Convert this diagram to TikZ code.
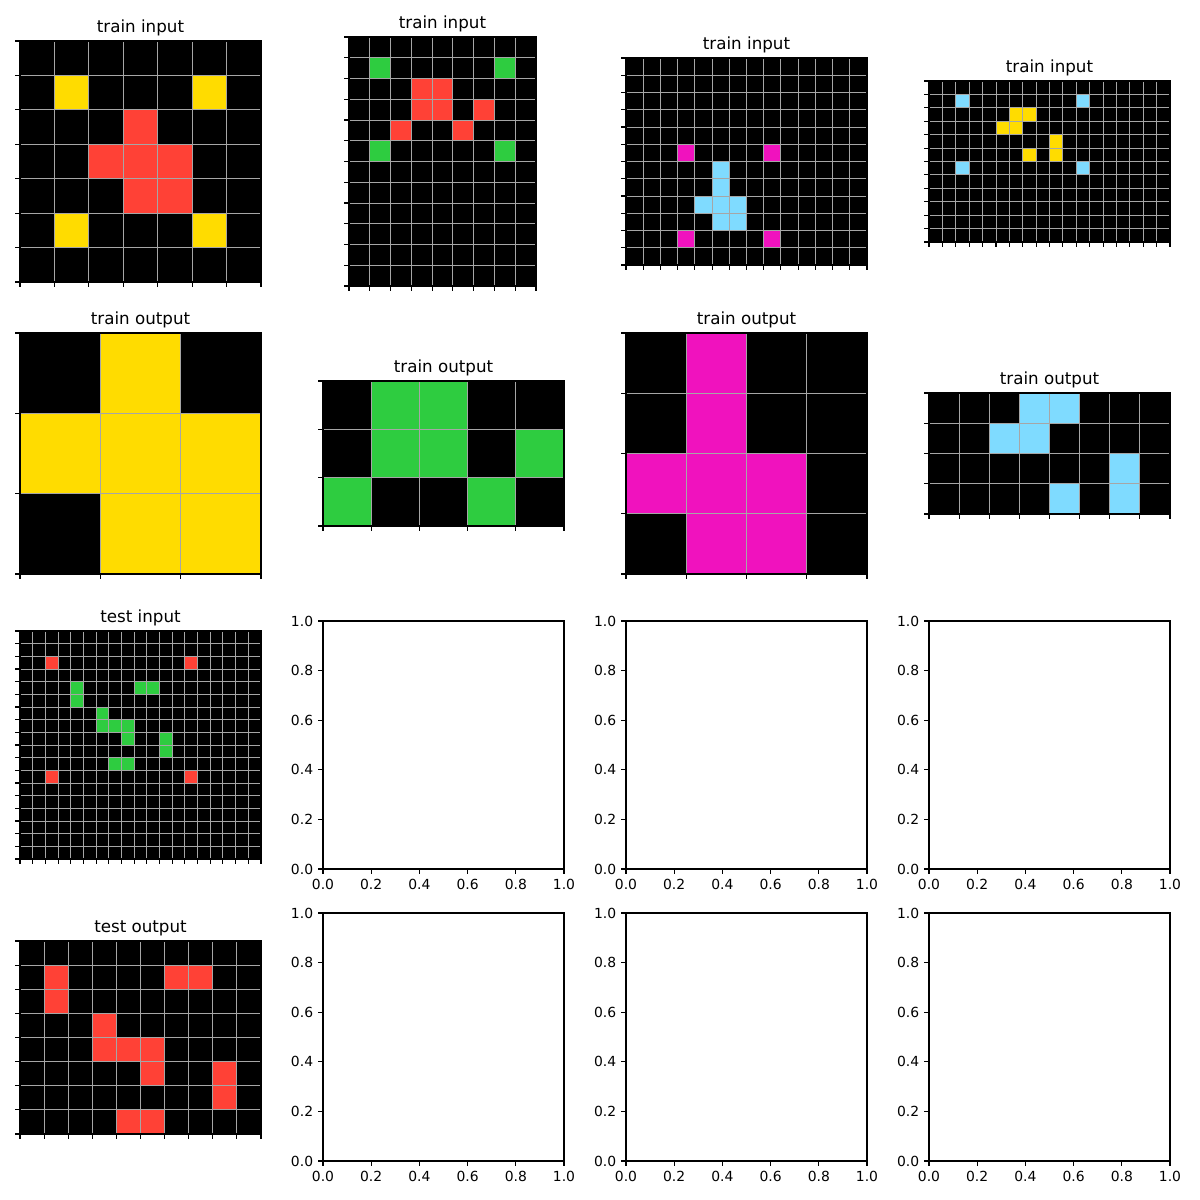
\documentclass[tikz,border=0pt]{standalone}
\usepackage{fontspec}
\setmainfont{DejaVu Sans}
\usetikzlibrary{positioning}

\definecolor{arcyellow}{HTML}{FFDC00}
\definecolor{arcred}{HTML}{FF4136}
\definecolor{arcgreen}{HTML}{2ECC40}
\definecolor{arcmagenta}{HTML}{F012BE}
\definecolor{arccyan}{HTML}{7FDBFF}

% one ARC grid: left, top, right, bottom, columns, rows, cells col/row/colour
\newcommand{\arcpanel}[7]{%
  \pgfmathsetmacro{\cellw}{(#3-#1)/#5}
  \pgfmathsetmacro{\cellh}{(#4-#2)/#6}
  \fill[black] (#1,#2) rectangle (#3,#4);
  \foreach \cx/\cy/\cc in {#7} {
    \fill[\cc] ({#1+\cx*\cellw},{#2+\cy*\cellh}) rectangle ++(\cellw,\cellh);
  }
  \foreach \i in {0,...,#5} {
    \draw[gridline] ({#1+\i*\cellw},#2) -- ({#1+\i*\cellw},#4);
    \draw[tickmark] ({#1+\i*\cellw},#4) -- ++(0,4.9);
  }
  \foreach \j in {0,...,#6} {
    \draw[gridline] (#1,{#2+\j*\cellh}) -- (#3,{#2+\j*\cellh});
    \draw[tickmark] (#1,{#2+\j*\cellh}) -- ++(-4.9,0);
  }
  \draw[axframe] (#1,#2) rectangle (#3,#4);
}

% empty axes: name prefix, left, top, right, bottom
\newcommand{\blankaxes}[5]{%
  \draw[axframe] (#2,#3) rectangle (#4,#5);
  \foreach \v [count=\k] in {0.0,0.2,0.4,0.6,0.8,1.0} {
    \draw[tickmark] ({#2+\v*(#4-#2)},#5) -- ++(0,4.9);
    \node[ticklabel, anchor=north] (#1x\k) at ({#2+\v*(#4-#2)},#5+9.7) {\v};
    \draw[tickmark] (#2,{#5-\v*(#5-#3)}) -- ++(-4.9,0);
    \node[ticklabel, anchor=east] (#1y\k) at (#2-9.7,{#5-\v*(#5-#3)}) {\v};
  }
}

\begin{document}
\begin{tikzpicture}[
  x=1pt, y=-1pt,
  gridline/.style={draw=black!35, line width=0.9pt},
  tickmark/.style={draw=black, line width=1.1pt},
  axframe/.style={draw=black, line width=1.1pt},
  axtitle/.style={font=\fontsize{16.7}{20}\selectfont, inner sep=0pt, anchor=south},
  ticklabel/.style={font=\fontsize{13.9}{16}\selectfont, inner sep=0pt},
]
  \useasboundingbox[fill=white] (0,0) rectangle (1200,1200);

  % first row: train inputs
  \arcpanel{20}{41}{261}{282}{7}{7}{1/1/arcyellow,5/1/arcyellow,3/2/arcred,2/3/arcred,3/3/arcred,4/3/arcred,3/4/arcred,4/4/arcred,1/5/arcyellow,5/5/arcyellow}
  \node[axtitle] (in1) at (140.5,36) {train input};
  \arcpanel{349}{37}{536}{286}{9}{12}{1/1/arcgreen,7/1/arcgreen,3/2/arcred,4/2/arcred,3/3/arcred,4/3/arcred,6/3/arcred,2/4/arcred,5/4/arcred,1/5/arcgreen,7/5/arcgreen}
  \node[axtitle] (in2) at (442.5,32) {train input};
  \arcpanel{626}{58}{867}{265}{14}{12}{3/5/arcmagenta,8/5/arcmagenta,5/6/arccyan,5/7/arccyan,4/8/arccyan,5/8/arccyan,6/8/arccyan,5/9/arccyan,6/9/arccyan,3/10/arcmagenta,8/10/arcmagenta}
  \node[axtitle] (in3) at (746.5,53) {train input};
  \arcpanel{929}{81}{1170}{242}{18}{12}{2/1/arccyan,11/1/arccyan,6/2/arcyellow,7/2/arcyellow,5/3/arcyellow,6/3/arcyellow,9/4/arcyellow,7/5/arcyellow,9/5/arcyellow,2/6/arccyan,11/6/arccyan}
  \node[axtitle] (in4) at (1049.5,76) {train input};

  % second row: train outputs
  \arcpanel{20}{333}{261}{574}{3}{3}{1/0/arcyellow,0/1/arcyellow,1/1/arcyellow,2/1/arcyellow,1/2/arcyellow,2/2/arcyellow}
  \node[axtitle] (out1) at (140.5,328) {train output};
  \arcpanel{323}{381}{564}{526}{5}{3}{1/0/arcgreen,2/0/arcgreen,1/1/arcgreen,2/1/arcgreen,4/1/arcgreen,0/2/arcgreen,3/2/arcgreen}
  \node[axtitle] (out2) at (443.5,376) {train output};
  \arcpanel{626}{333}{867}{574}{4}{4}{1/0/arcmagenta,1/1/arcmagenta,0/2/arcmagenta,1/2/arcmagenta,2/2/arcmagenta,1/3/arcmagenta,2/3/arcmagenta}
  \node[axtitle] (out3) at (746.5,328) {train output};
  \arcpanel{929}{393}{1170}{514}{8}{4}{3/0/arccyan,4/0/arccyan,2/1/arccyan,3/1/arccyan,6/2/arccyan,4/3/arccyan,6/3/arccyan}
  \node[axtitle] (out4) at (1049.5,388) {train output};

  % third row: test input and empty axes
  \arcpanel{20}{631}{261}{859}{19}{18}{2/2/arcred,13/2/arcred,4/4/arcgreen,9/4/arcgreen,10/4/arcgreen,4/5/arcgreen,6/6/arcgreen,6/7/arcgreen,7/7/arcgreen,8/7/arcgreen,8/8/arcgreen,11/8/arcgreen,11/9/arcgreen,7/10/arcgreen,8/10/arcgreen,2/11/arcred,13/11/arcred}
  \node[axtitle] (testin) at (140.5,626) {test input};
  \blankaxes{ea}{323}{621}{564}{869}
  \blankaxes{eb}{626}{621}{867}{869}
  \blankaxes{ec}{929}{621}{1170}{869}

  % fourth row: test output and empty axes
  \arcpanel{20}{941}{261}{1134}{10}{8}{1/1/arcred,6/1/arcred,7/1/arcred,1/2/arcred,3/3/arcred,3/4/arcred,4/4/arcred,5/4/arcred,5/5/arcred,8/5/arcred,8/6/arcred,4/7/arcred,5/7/arcred}
  \node[axtitle] (testout) at (140.5,936) {test output};
  \blankaxes{ed}{323}{913}{564}{1161}
  \blankaxes{ee}{626}{913}{867}{1161}
  \blankaxes{ef}{929}{913}{1170}{1161}
\end{tikzpicture}
\end{document}
